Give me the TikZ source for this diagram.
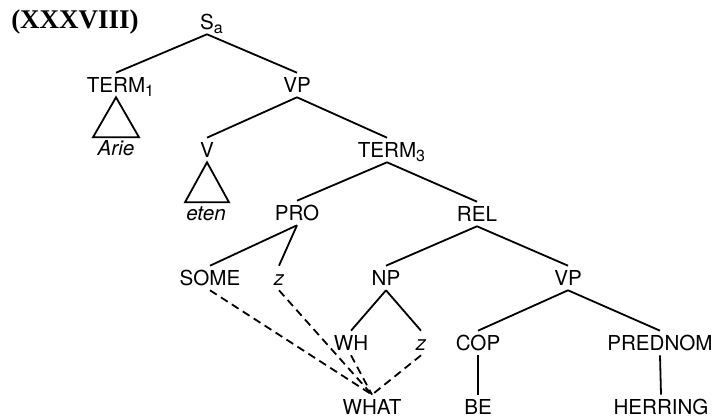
\documentclass[tikz,border=0pt]{standalone}
\usepackage{fontspec}
\setmainfont{Liberation Serif}
\setsansfont{TeX Gyre Heros}
\usepackage{tikz}
\usetikzlibrary{positioning,calc}
\newcommand{\idx}[1]{\rlap{\raisebox{-2.2pt}{\fontsize{8}{8}\selectfont#1}}}

\begin{document}
\begin{tikzpicture}[x=0.5pt,y=-0.5pt,
    lab/.style={font=\sffamily\fontsize{10.3}{12}\selectfont,inner sep=2pt,text height=7.4pt,text depth=0pt},
    lex/.style={lab,font=\sffamily\itshape\fontsize{10.3}{12}\selectfont},
    tie/.style={dashed,dash pattern=on 4pt off 2.5pt},
    line width=0.9pt]
  \useasboundingbox (0,0) rectangle (712,416);
  \node[font=\rmfamily\bfseries\fontsize{13.5}{15}\selectfont] (title) at (75,22) {(XXXVIII)};
  % main tree
  \node[lab] (sa) at (207,22) {S\idx{a}};
  \node[lab] (term1) at (116,85) {TERM\idx{1}};
  \node[lab] (vp1) at (297,85) {VP};
  \node[lab] (v) at (207,150) {V};
  \node[lab] (term3) at (387,150) {TERM\idx{3}};
  \node[lab] (pro) at (297,213) {PRO};
  \node[lab] (rel) at (477,214) {REL};
  \node[lab] (some) at (210,278) {SOME};
  \node[lex] (z1) at (279,278) {z};
  \node[lab] (np) at (386,278) {NP};
  \node[lab] (vp2) at (568,278) {VP};
  \node[lab] (wh) at (351,343) {WH};
  \node[lex] (z2) at (421,343) {z};
  \node[lab] (cop) at (478,343) {COP};
  \node[lab] (prednom) at (660,343) {PREDNOM};
  \node[lab] (what) at (372,407) {WHAT};
  \node[lab] (be) at (478,407) {BE};
  \node[lab] (herring) at (661,407) {HERRING};
  % leaves under triangles
  \node[lex] (arie) at (116,148) {Arie};
  \node[lex] (eten) at (206,213) {eten};

  \draw (sa.south) -- (term1.north);
  \draw (sa.south) -- (vp1.north);
  \draw (vp1.south) -- (v.north);
  \draw (vp1.south) -- (term3.north);
  \draw (term3.south) -- (pro.north);
  \draw (term3.south) -- (rel.north);
  \draw (pro.south) -- (some.north);
  \draw (pro.south) -- (z1.north);
  \draw (rel.south) -- (np.north);
  \draw (rel.south) -- (vp2.north);
  \draw (np.south) -- (wh.north);
  \draw (np.south) -- (z2.north);
  \draw (vp2.south) -- (cop.north);
  \draw (vp2.south) -- (prednom.north);
  \draw (cop.south) -- (be.north);
  \draw (prednom.south) -- (herring.north);
  % triangles
  \draw (term1.south) -- ++(-23,40) -- ++(46,0) -- cycle;
  \draw (v.south) -- ++(-22,40) -- ++(44,0) -- cycle;
  % dashed links to WHAT
  \foreach \n in {some,z1,wh,z2}
    \draw[tie] (\n.south) -- (what.north);
\end{tikzpicture}
\end{document}
